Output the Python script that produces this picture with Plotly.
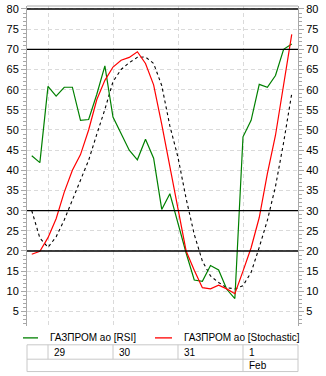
import plotly.graph_objects as go

# ---- data (hourly bars, 8 per trading day) ----
bars = list(range(33))
rsi = [43.6, 41.9, 60.8, 58.4, 60.6, 60.6, 52.4, 52.6, 58.8, 65.9, 53.2, 49.2, 45.0,
       42.6, 47.7, 43.0, 30.3, 34.2, 26.5, 19.5, 12.8, 12.5, 16.4, 15.3, 10.5, 8.2,
       48.3, 52.4, 61.3, 60.6, 63.5, 70.0, 71.3]
stoch = [19.2, 19.9, 23.3, 28.0, 34.6, 40.0, 43.9, 50.0, 57.5, 62.3, 65.6, 67.3, 68.0,
         69.4, 66.5, 61.2, 51.4, 40.7, 30.5, 20.0, 15.2, 10.9, 10.6, 11.5, 10.6, 9.4,
         15.0, 20.8, 28.3, 39.2, 48.7, 61.4, 73.7]
signal = [30.0, 23.2, 20.9, 23.5, 27.7, 32.7, 37.5, 42.5, 48.9, 55.1, 62.0, 65.0, 66.7,
          68.0, 68.1, 66.5, 61.0, 51.0, 43.2, 33.0, 24.1, 17.5, 13.8, 12.2, 10.9, 10.6,
          11.4, 14.7, 20.9, 27.6, 36.0, 46.9, 59.0]
day_labels = ["29", "30", "31", "1"]
day_start_bars = [2, 10, 18, 26]
month_label = "Feb"
levels = [80, 70, 30, 20]
series_names = ["ГАЗПРОМ ао [RSI]", "ГАЗПРОМ ао [Stochastic]"]

X_RANGE = [-0.585, 32.77]
Y_RANGE = [1.4, 80.74]
W, H = 326, 376
ML, MR, MT, MB = 27, 28, 3, 50
PW, PH = W - ML - MR, H - MT - MB

def px_x(px):
    return (px - ML) / PW

def px_y(py):
    return (H - MB - py) / PH

def bar_paper(b):
    return (b - X_RANGE[0]) / (X_RANGE[1] - X_RANGE[0])

FONT = "Liberation Sans"
GRID = "#dadada"
AXC = "#a8a8a8"
TBL = "#c8c8c8"

fig = go.Figure()
fig.add_trace(go.Scatter(x=bars, y=signal, mode="lines", name="signal",
                         line=dict(color="black", width=1.1, dash="3px,3px"),
                         showlegend=False))
fig.add_trace(go.Scatter(x=bars, y=rsi, mode="lines", name=series_names[0],
                         line=dict(color="#008000", width=1.2), showlegend=False))
fig.add_trace(go.Scatter(x=bars, y=stoch, mode="lines", name=series_names[1],
                         line=dict(color="#ff0000", width=1.2), showlegend=False))
# invisible trace for right axis
fig.add_trace(go.Scatter(x=[bars[0]], y=[rsi[0]], yaxis="y2", mode="lines",
                         line=dict(width=0), hoverinfo="skip", showlegend=False))

shapes = []
for lv in levels:
    shapes.append(dict(type="line", xref="paper", yref="y", x0=0, x1=1, y0=lv, y1=lv,
                       line=dict(color="black", width=1.3), layer="above"))
# top border
shapes.append(dict(type="line", xref="paper", yref="paper", x0=0, x1=1, y0=1, y1=1,
                   line=dict(color=AXC, width=1)))

# legend
leg_y = px_y(338)
LEG_FONT = dict(family=FONT, size=10, color="black")
shapes.append(dict(type="line", xref="paper", yref="paper", x0=px_x(23), x1=px_x(38),
                   y0=leg_y, y1=leg_y, line=dict(color="#008000", width=1.3)))
shapes.append(dict(type="line", xref="paper", yref="paper", x0=px_x(155), x1=px_x(172),
                   y0=leg_y, y1=leg_y, line=dict(color="#ff0000", width=1.3)))
annotations = [
    dict(x=px_x(48), y=leg_y, xref="paper", yref="paper", text=series_names[0],
         showarrow=False, xanchor="left", yanchor="middle", font=LEG_FONT),
    dict(x=px_x(182), y=leg_y, xref="paper", yref="paper", text=series_names[1],
         showarrow=False, xanchor="left", yanchor="middle", font=LEG_FONT),
]

# date table
r0, r1, r2 = px_y(345), px_y(359.5), px_y(372)
for yy in (r0, r1, r2):
    shapes.append(dict(type="line", xref="paper", yref="paper", x0=0, x1=1, y0=yy, y1=yy,
                       line=dict(color=TBL, width=1)))
for xx in (0, 1):
    shapes.append(dict(type="line", xref="paper", yref="paper", x0=xx, x1=xx, y0=r0, y1=r2,
                       line=dict(color=TBL, width=1)))
for i, b in enumerate(day_start_bars):
    xp = bar_paper(b)
    last = i == len(day_start_bars) - 1
    shapes.append(dict(type="line", xref="paper", yref="paper", x0=xp, x1=xp,
                       y0=r0, y1=(r2 if last else r1), line=dict(color=TBL, width=1)))
    annotations.append(dict(x=xp + 4 / PW, y=(r0 + r1) / 2, xref="paper", yref="paper",
                            text=day_labels[i], showarrow=False, xanchor="left",
                            yanchor="middle", font=LEG_FONT))
    if last:
        annotations.append(dict(x=xp + 4 / PW, y=(r1 + r2) / 2, xref="paper", yref="paper",
                                text=month_label, showarrow=False, xanchor="left",
                                yanchor="middle", font=LEG_FONT))

yax = dict(range=Y_RANGE, tickmode="linear", tick0=5, dtick=5, ticks="outside",
           ticklen=5, tickcolor=AXC, showline=True, linecolor=AXC, linewidth=1,
           zeroline=False, tickfont=dict(family=FONT, size=11, color="black"),
           ticklabeloverflow="allow",
           minor=dict(dtick=1, ticks="outside", ticklen=3, tickcolor=AXC, showgrid=False),
           fixedrange=True)

fig.update_layout(
    width=W, height=H, autosize=False,
    margin=dict(l=ML, r=MR, t=MT, b=MB, pad=0),
    paper_bgcolor="white", plot_bgcolor="white",
    showlegend=False,
    xaxis=dict(range=X_RANGE, tickmode="array", tickvals=day_start_bars,
               showticklabels=False, ticks="", showgrid=True, gridcolor=GRID,
               griddash="4px,3px", gridwidth=1, zeroline=False, showline=False),
    yaxis=dict(**yax, side="left", showgrid=True, gridcolor=GRID, griddash="4px,3px",
               gridwidth=1),
    yaxis2=dict(**yax, side="right", overlaying="y", showgrid=False),
    shapes=shapes, annotations=annotations,
    font=dict(family=FONT, size=11, color="black"),
)

fig.write_html("out.html")
